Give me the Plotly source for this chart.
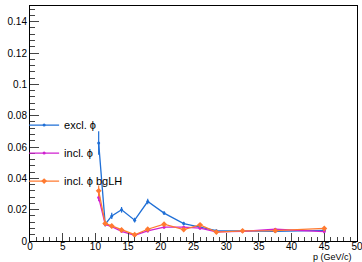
import plotly.graph_objects as go

p = [10.5, 11.5, 12.5, 14, 16, 18, 20.5, 23.5, 26, 28.5, 32.5, 37.5, 45]

excl = [0.0625, 0.0107, 0.0160, 0.0199, 0.0133, 0.0252, 0.0178, 0.0111, 0.0088, 0.0066, 0.0065, 0.0062, 0.0068]
excl_err = [0.0075, 0.0015, 0.002, 0.0018, 0.0015, 0.0018, 0.0012, 0.0012, 0.001, 0.0008, 0.0008, 0.0008, 0.0008]

incl = [0.0278, 0.0105, 0.0092, 0.0062, 0.0037, 0.0064, 0.0088, 0.0088, 0.0082, 0.0058, 0.0062, 0.0075, 0.0060]
incl_err = [0.0025, 0.001, 0.001, 0.0008, 0.0006, 0.0008, 0.0008, 0.0008, 0.0008, 0.0006, 0.0006, 0.0008, 0.0012]

bglh = [0.0320, 0.0112, 0.0096, 0.0070, 0.0040, 0.0075, 0.0107, 0.0073, 0.0103, 0.0057, 0.0065, 0.0066, 0.0080]
bglh_err = [0.0035, 0.0012, 0.0012, 0.0008, 0.0006, 0.0008, 0.001, 0.001, 0.001, 0.0006, 0.0006, 0.0008, 0.0012]

names = ["excl. ϕ", "incl. ϕ", "incl. ϕ bgLH"]
colors = ["#1f6fd6", "#d020d0", "#ff7a30"]
msizes = [3, 3, 4.5]
symbols = ["circle", "circle", "diamond"]

fig = go.Figure()
for i, (yv, ev) in enumerate([(excl, excl_err), (incl, incl_err), (bglh, bglh_err)]):
    fig.add_trace(go.Scatter(
        x=p, y=yv, name=names[i], mode="lines+markers",
        legendgroup=f"g{i}",
        line=dict(color=colors[i], width=1.3),
        marker=dict(color=colors[i], size=msizes[i], symbol=symbols[i]),
        error_y=dict(type="data", array=ev, color=colors[i], thickness=1.2, width=0),
    ))

fig.update_layout(
    width=362, height=262,
    margin=dict(l=30, r=5, t=6, b=21, autoexpand=False),
    paper_bgcolor="white", plot_bgcolor="white",
    font=dict(family="Liberation Sans, Arial, sans-serif", size=10, color="black"),
    showlegend=True,
    legend=dict(x=-0.018, y=0.555, xanchor="left", yanchor="top",
                bgcolor="rgba(0,0,0,0)", font=dict(size=11),
                tracegroupgap=9, itemwidth=30),
    xaxis=dict(range=[0, 50], dtick=5, tick0=0, ticks="inside", ticklen=8,
               automargin=False, ticklabelstandoff=-4, ticklabeloverflow="allow",
               showline=True, linecolor="black", linewidth=1, mirror=True,
               showgrid=False, zeroline=False,
               minor=dict(dtick=1, ticks="inside", ticklen=4, showgrid=False),
               tickfont=dict(size=10)),
    yaxis=dict(range=[0, 0.15], dtick=0.02, tick0=0, ticks="inside", ticklen=9,
               automargin=False, ticklabeloverflow="allow",
               showline=True, linecolor="black", linewidth=1, mirror=True,
               showgrid=False, zeroline=False,
               minor=dict(dtick=0.004, ticks="inside", ticklen=5, showgrid=False),
               tickfont=dict(size=10)),
    annotations=[dict(text="p (GeV/c)", x=1, y=0, xref="paper", yref="paper",
                      xanchor="right", yanchor="top", yshift=-10, xshift=-4,
                      showarrow=False, borderpad=0, font=dict(size=9))],
)

fig.write_html("out.html", config={"displayModeBar": False},
               post_script="document.body.style.margin='0';document.body.style.overflow='hidden';")
